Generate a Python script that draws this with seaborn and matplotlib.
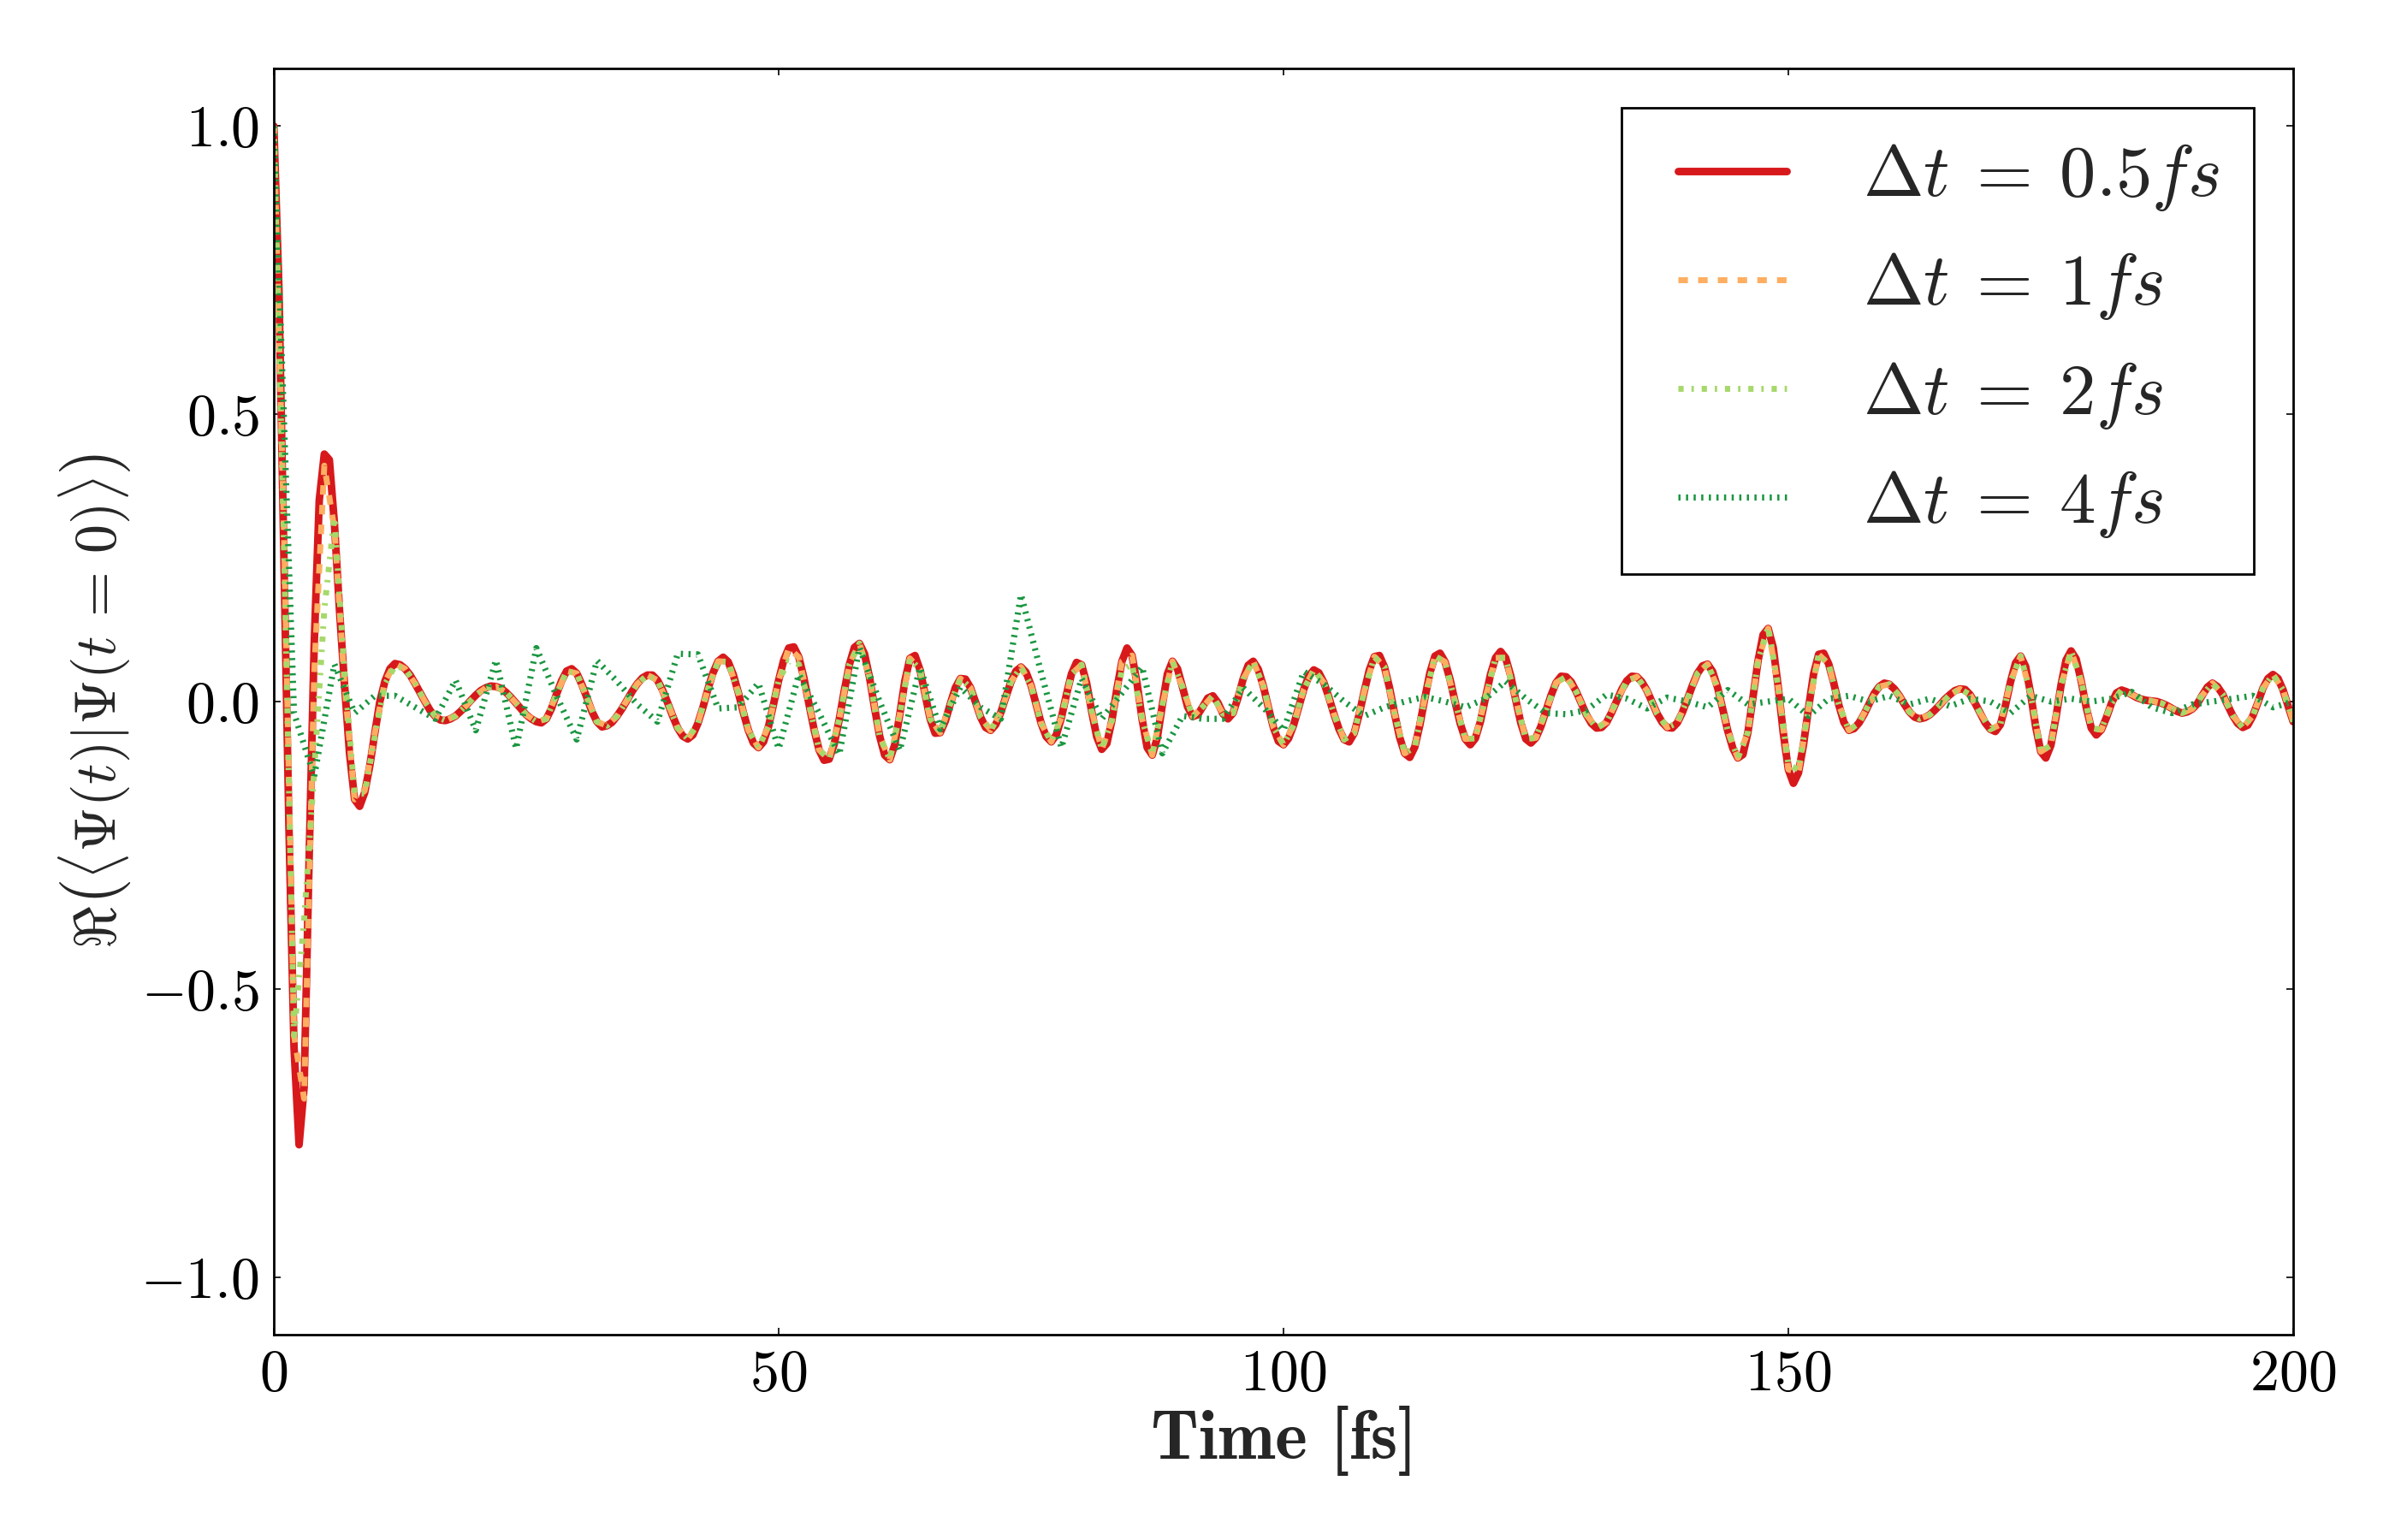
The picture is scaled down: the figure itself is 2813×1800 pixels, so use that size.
import numpy as np
import matplotlib
matplotlib.use("Agg")
import matplotlib.pyplot as plt
import seaborn as sns
from matplotlib.ticker import FuncFormatter
from matplotlib.font_manager import FontProperties

# ---------------- data ----------------
# time grids (fs)
t_half = np.arange(0, 200.01, 0.5)
t_one = np.arange(0, 200.01, 1.0)
t_two = np.arange(0, 200.01, 2.0)

# Re<Psi(t)|Psi(0)>, dt = 0.5 fs, sampled every 0.5 fs
re_dt05 = [
    1.00, 0.72, 0.25, -0.22, -0.60, -0.77, -0.67, -0.27, 0.10, 0.35,
    0.43, 0.42, 0.31, 0.16, 0.03, -0.09, -0.17, -0.182, -0.158, -0.112,
    -0.055, 0.000, 0.035, 0.057, 0.066, 0.064, 0.057, 0.046, 0.031, 0.015,
    -0.001, -0.016, -0.026, -0.032, -0.033, -0.030, -0.025, -0.017, -0.008, 0.002,
    0.011, 0.019, 0.024, 0.027, 0.026, 0.023, 0.016, 0.007, -0.003, -0.013,
    -0.023, -0.030, -0.035, -0.037, -0.030, -0.012, 0.013, 0.036, 0.053, 0.057,
    0.049, 0.030, 0.007, -0.017, -0.035, -0.044, -0.042, -0.036, -0.025, -0.012,
    0.003, 0.018, 0.031, 0.041, 0.046, 0.046, 0.037, 0.020, -0.002, -0.025,
    -0.046, -0.060, -0.065, -0.058, -0.038, -0.010, 0.022, 0.050, 0.070, 0.077,
    0.069, 0.047, 0.016, -0.019, -0.050, -0.072, -0.080, -0.070, -0.043, -0.004,
    0.037, 0.072, 0.093, 0.095, 0.077, 0.041, -0.004, -0.048, -0.084, -0.102,
    -0.100, -0.074, -0.031, 0.019, 0.064, 0.094, 0.101, 0.083, 0.042, -0.011,
    -0.060, -0.093, -0.101, -0.075, -0.022, 0.036, 0.075, 0.080, 0.055, 0.013,
    -0.030, -0.055, -0.054, -0.034, -0.004, 0.024, 0.040, 0.039, 0.024, -0.001,
    -0.027, -0.045, -0.050, -0.040, -0.019, 0.008, 0.034, 0.053, 0.060, 0.051,
    0.028, -0.005, -0.038, -0.061, -0.070, -0.058, -0.028, 0.012, 0.048, 0.068,
    0.064, 0.032, -0.017, -0.061, -0.083, -0.073, -0.033, 0.022, 0.070, 0.093,
    0.080, 0.031, -0.031, -0.080, -0.093, -0.063, -0.006, 0.048, 0.070, 0.057,
    0.025, -0.009, -0.026, -0.023, -0.009, 0.006, 0.010, -0.002, -0.021, -0.030,
    -0.020, 0.007, 0.039, 0.063, 0.070, 0.056, 0.027, -0.010, -0.045, -0.069,
    -0.075, -0.064, -0.041, -0.010, 0.021, 0.044, 0.055, 0.050, 0.033, 0.007,
    -0.022, -0.048, -0.066, -0.070, -0.055, -0.022, 0.018, 0.055, 0.078, 0.080,
    0.060, 0.024, -0.021, -0.062, -0.090, -0.097, -0.079, -0.041, 0.006, 0.050,
    0.079, 0.084, 0.069, 0.038, -0.001, -0.038, -0.065, -0.075, -0.064, -0.035,
    0.006, 0.047, 0.076, 0.087, 0.076, 0.045, 0.003, -0.037, -0.065, -0.072,
    -0.063, -0.043, -0.016, 0.011, 0.033, 0.044, 0.043, 0.034, 0.017, -0.003,
    -0.023, -0.038, -0.046, -0.045, -0.036, -0.019, 0.001, 0.021, 0.036, 0.044,
    0.043, 0.034, 0.019, -0.001, -0.021, -0.036, -0.045, -0.046, -0.037, -0.019,
    0.004, 0.028, 0.049, 0.062, 0.065, 0.052, 0.024, -0.013, -0.051, -0.081,
    -0.098, -0.092, -0.053, 0.008, 0.071, 0.116, 0.127, 0.094, 0.025, -0.055,
    -0.118, -0.142, -0.124, -0.075, -0.011, 0.048, 0.082, 0.084, 0.065, 0.032,
    -0.006, -0.036, -0.050, -0.047, -0.037, -0.022, -0.004, 0.014, 0.026, 0.032,
    0.030, 0.022, 0.010, -0.005, -0.018, -0.027, -0.030, -0.028, -0.023, -0.015,
    -0.006, 0.004, 0.012, 0.019, 0.022, 0.021, 0.012, -0.003, -0.020, -0.037,
    -0.048, -0.052, -0.040, -0.007, 0.034, 0.067, 0.079, 0.061, 0.013, -0.044,
    -0.087, -0.098, -0.076, -0.028, 0.028, 0.072, 0.088, 0.074, 0.036, -0.010,
    -0.046, -0.058, -0.049, -0.028, -0.003, 0.015, 0.020, 0.017, 0.012, 0.007,
    0.004, 0.002, 0.001, 0.000, -0.003, -0.007, -0.012, -0.017, -0.020, -0.018,
    -0.013, -0.004, 0.011, 0.025, 0.032, 0.026, 0.013, -0.006, -0.024, -0.038,
    -0.045, -0.041, -0.025, -0.002, 0.023, 0.040, 0.047, 0.040, 0.020, -0.008,
    -0.035,
]

# dt = 1 fs, sampled every 1 fs
re_dt1 = [
    1.00, 0.30, -0.58, -0.69, 0.05, 0.41, 0.30, 0.03, -0.17, -0.155,
    -0.055, 0.035, 0.066, 0.057, 0.031, -0.001, -0.026, -0.033, -0.025, -0.008,
    0.011, 0.024, 0.026, 0.016, -0.003, -0.023, -0.035, -0.030, 0.013, 0.053,
    0.049, 0.007, -0.035, -0.042, -0.025, 0.003, 0.031, 0.046, 0.037, -0.002,
    -0.046, -0.065, -0.038, 0.022, 0.070, 0.069, 0.016, -0.050, -0.080, -0.043,
    0.037, 0.093, 0.077, -0.004, -0.084, -0.100, -0.031, 0.064, 0.101, 0.042,
    -0.060, -0.101, -0.022, 0.075, 0.055, -0.030, -0.054, -0.004, 0.040, 0.024,
    -0.027, -0.050, -0.019, 0.034, 0.060, 0.028, -0.038, -0.070, -0.028, 0.048,
    0.064, -0.017, -0.083, -0.033, 0.070, 0.080, -0.031, -0.093, -0.006, 0.070,
    0.025, -0.026, -0.009, 0.010, -0.021, -0.020, 0.039, 0.070, 0.027, -0.045,
    -0.075, -0.041, 0.021, 0.055, 0.033, -0.022, -0.066, -0.055, 0.018, 0.078,
    0.060, -0.021, -0.090, -0.079, 0.006, 0.079, 0.069, -0.001, -0.065, -0.064,
    0.006, 0.076, 0.076, 0.003, -0.065, -0.063, -0.016, 0.033, 0.043, 0.017,
    -0.023, -0.046, -0.036, 0.001, 0.036, 0.043, 0.019, -0.021, -0.045, -0.037,
    0.004, 0.049, 0.065, 0.024, -0.051, -0.098, -0.053, 0.071, 0.127, 0.025,
    -0.118, -0.124, -0.011, 0.082, 0.065, -0.006, -0.050, -0.037, -0.004, 0.026,
    0.030, 0.010, -0.018, -0.030, -0.023, -0.006, 0.012, 0.022, 0.012, -0.020,
    -0.048, -0.040, 0.034, 0.079, 0.013, -0.087, -0.076, 0.028, 0.088, 0.036,
    -0.046, -0.049, -0.003, 0.020, 0.012, 0.004, 0.001, -0.003, -0.012, -0.020,
    -0.013, 0.011, 0.032, 0.013, -0.024, -0.045, -0.025, 0.023, 0.047, 0.020,
    -0.035,
]

# dt = 2 fs, sampled every 1 fs
re_dt2 = [
    1.00, 0.28, -0.58, -0.38, -0.12, 0.16, 0.32, 0.05, -0.16, -0.16,
    -0.06, 0.030, 0.062, 0.057, 0.031, -0.001, -0.026, -0.033, -0.025, -0.008,
    0.011, 0.024, 0.026, 0.016, -0.003, -0.023, -0.035, -0.030, 0.013, 0.053,
    0.049, 0.007, -0.035, -0.042, -0.025, 0.003, 0.031, 0.046, 0.037, -0.002,
    -0.046, -0.065, -0.038, 0.022, 0.070, 0.069, 0.016, -0.050, -0.080, -0.043,
    0.037, 0.070, 0.065, -0.004, -0.084, -0.100, -0.031, 0.064, 0.101, 0.042,
    -0.060, -0.101, -0.022, 0.075, 0.055, -0.030, -0.054, -0.004, 0.040, 0.024,
    -0.027, -0.050, -0.019, 0.034, 0.060, 0.028, -0.038, -0.070, -0.028, 0.048,
    0.064, -0.017, -0.083, -0.033, 0.055, 0.065, -0.031, -0.093, -0.006, 0.070,
    0.025, -0.026, -0.009, 0.010, -0.021, -0.020, 0.039, 0.070, 0.027, -0.045,
    -0.075, -0.041, 0.021, 0.055, 0.033, -0.022, -0.066, -0.055, 0.018, 0.078,
    0.060, -0.021, -0.090, -0.079, 0.006, 0.079, 0.069, -0.001, -0.065, -0.064,
    0.006, 0.076, 0.076, 0.003, -0.065, -0.063, -0.016, 0.033, 0.043, 0.017,
    -0.023, -0.046, -0.036, 0.001, 0.036, 0.043, 0.019, -0.021, -0.045, -0.037,
    0.004, 0.049, 0.065, 0.024, -0.051, -0.098, -0.053, 0.071, 0.130, 0.025,
    -0.110, -0.118, -0.011, 0.082, 0.065, -0.006, -0.050, -0.037, -0.004, 0.026,
    0.030, 0.010, -0.018, -0.030, -0.023, -0.006, 0.012, 0.022, 0.012, -0.020,
    -0.048, -0.040, 0.034, 0.079, 0.013, -0.087, -0.076, 0.028, 0.088, 0.036,
    -0.046, -0.049, -0.003, 0.020, 0.012, 0.004, 0.001, -0.003, -0.012, -0.020,
    -0.013, 0.011, 0.032, 0.013, -0.024, -0.045, -0.025, 0.023, 0.047, 0.020,
    -0.035,
]

# dt = 4 fs, sampled every 2 fs
re_dt4 = [
    1.00, -0.02, -0.13, 0.065, -0.02, 0.01, 0.01, -0.01, -0.03, 0.037,
    -0.05, 0.072, -0.082, 0.093, 0.010, -0.066, 0.071, 0.035, -0.005, -0.035,
    0.083, 0.082, -0.012, -0.010, 0.032, -0.082, 0.047, -0.020, -0.092, 0.094,
    0.000, -0.085, 0.059, -0.048, 0.025, -0.010, -0.030, 0.186, 0.050, -0.080,
    0.040, -0.030, 0.015, 0.060, -0.090, -0.025, -0.030, -0.030, 0.024, -0.010,
    -0.050, 0.052, 0.030, 0.000, -0.025, -0.010, 0.000, 0.008, 0.000, -0.010,
    0.005, 0.035, 0.005, -0.020, -0.022, -0.015, 0.012, 0.005, -0.012, 0.007,
    0.000, -0.010, 0.020, -0.005, 0.000, 0.005, -0.025, 0.005, 0.010, 0.000,
    0.010, -0.005, 0.005, -0.008, 0.005, 0.000, -0.020, 0.010, 0.000, 0.005,
    0.000, 0.005, 0.017, -0.010, -0.020, -0.005, 0.000, 0.005, 0.010, -0.010,
    0.000,
]

labels = [r'$\Delta t\:=\:0.5fs$', r'$\Delta t\:=\:1fs$',
          r'$\Delta t\:=\:2fs$', r'$\Delta t\:=\:4fs$']
colors = ['#d7191c', '#fdae61', '#a6d96a', '#1a9641']
xticks = [0, 50, 100, 150, 200]
yticks = [-1.0, -0.5, 0.0, 0.5, 1.0]

# ---------------- style ----------------
sns.set_style("white")
plt.rcParams.update({
    'mathtext.fontset': 'cm',
    'font.family': 'serif',
    'font.serif': ['cmr10', 'DejaVu Serif'],
    'axes.formatter.use_mathtext': True,
    'lines.scale_dashes': False,
    'xtick.direction': 'in', 'ytick.direction': 'in',
    'xtick.top': True, 'ytick.right': True,
    'xtick.bottom': True, 'ytick.left': True,
})

fig = plt.figure(figsize=(14.065, 9.0), dpi=200)
ax = fig.add_axes([0.11376, 0.13333, 0.83896, 0.82222])

series = [(t_half, re_dt05, 3.2, None),
          (t_one, re_dt1, 2.5, (4.0, 4.3)),
          (t_one, re_dt2, 2.5, (2.2, 3.3, 1.0, 3.3)),
          (t_two, re_dt4, 2.6, (0.9, 2.3))]

for (tt, yy, lw, dash), lab, col in zip(series, labels, colors):
    sns.lineplot(x=tt, y=np.asarray(yy), ax=ax, color=col, linewidth=lw,
                 label=lab, estimator=None, sort=False)
    line = ax.lines[-1]
    if dash is not None:
        line.set_dashes(dash)
        line.set_dash_capstyle('butt')

ax.set_xlim(0, 200)
ax.set_ylim(-1.1, 1.1)
ax.set_xticks(xticks)
ax.set_yticks(yticks)
ax.xaxis.set_major_formatter(FuncFormatter(lambda v, p: r'$%d$' % int(round(v))))
ax.yaxis.set_major_formatter(FuncFormatter(lambda v, p: r'$%.1f$' % v))
ax.tick_params(axis='both', which='major', direction='in', length=2.8,
               width=0.6, labelsize=24.5, pad=6, top=True, right=True,
               colors='black')
ax.tick_params(axis='both', which='minor', length=0)
for sp in ax.spines.values():
    sp.set_linewidth(1.0)
    sp.set_color('black')

xl_font = FontProperties(family='cmb10', size=29)
ax.set_xlabel('Time [fs]', fontproperties=xl_font, labelpad=2)
ax.set_ylabel(r'$\Re\left(\langle\Psi(t)|\Psi(t\,=\,0)\rangle\right)$',
              fontsize=24.5, labelpad=3)

leg = ax.legend(loc='upper right', fontsize=30.5, frameon=True, fancybox=False,
                edgecolor='black', framealpha=1.0, numpoints=2,
                handlelength=2.1, handletextpad=0.75, borderpad=0.48,
                labelspacing=0.52, borderaxespad=0.54)
leg.get_frame().set_linewidth(1.0)

fig.savefig('out.png', dpi=200, facecolor='white')
